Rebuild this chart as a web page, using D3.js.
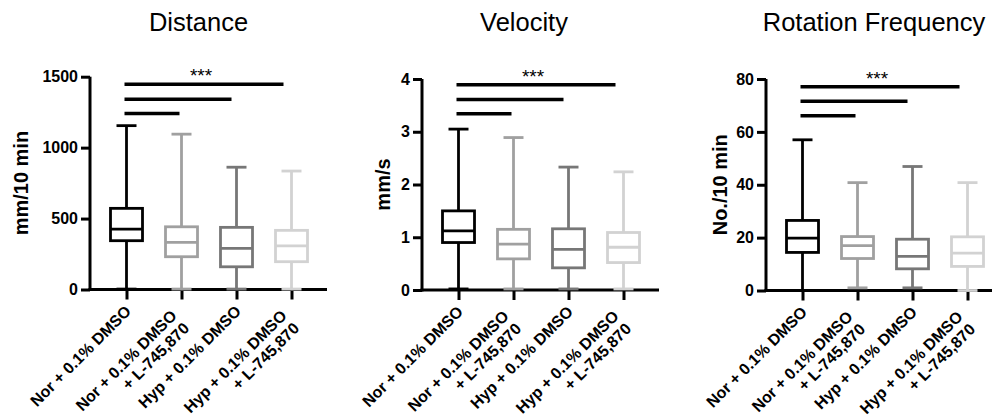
<!DOCTYPE html>
<html>
<head>
<meta charset="utf-8">
<script src="https://cdnjs.cloudflare.com/ajax/libs/d3/7.8.5/d3.min.js"></script>
<style>
  body { margin: 0; background: #fff; }
  #chart { width: 992px; height: 416px; }
  text { font-family: "Liberation Sans", Arial, sans-serif; }
</style>
</head>
<body>
<div id="chart"></div>
<script>
// groups and their (multi-line) tick labels
const groups = ["Nor + 0.1% DMSO", "Nor + 0.1% DMSO + L-745,870", "Hyp + 0.1% DMSO", "Hyp + 0.1% DMSO + L-745,870"];
const groupLabels = [["Nor + 0.1% DMSO"], ["Nor + 0.1% DMSO", "+ L-745,870"], ["Hyp + 0.1% DMSO"], ["Hyp + 0.1% DMSO", "+ L-745,870"]];
const groupColors = ["#000000", "#a0a0a0", "#777777", "#d2d2d2"];

// Distance (mm/10 min)
const distanceMin = [3, 3, 3, 3];
const distanceQ1 = [344, 231, 160, 196];
const distanceMed = [426, 332, 290, 308];
const distanceQ3 = [572, 442, 438, 417];
const distanceMax = [1155, 1095, 862, 835];
const distanceTicks = [0, 500, 1000, 1500];
const distanceSig = [1241, 1341, 1447];

// Velocity (mm/s)
const velocityMin = [0.02, 0.02, 0.02, 0.02];
const velocityQ1 = [0.90, 0.59, 0.42, 0.52];
const velocityMed = [1.12, 0.87, 0.77, 0.81];
const velocityQ3 = [1.50, 1.15, 1.16, 1.09];
const velocityMax = [3.05, 2.89, 2.33, 2.24];
const velocityTicks = [0, 1, 2, 3, 4];
const velocitySig = [3.34, 3.61, 3.89];

// Rotation frequency (No./10 min)
const rotationMin = [0, 1, 1, 0];
const rotationQ1 = [14.4, 12.1, 8.2, 9.1];
const rotationMed = [19.8, 17.0, 12.9, 14.1];
const rotationQ3 = [26.5, 20.4, 19.4, 20.3];
const rotationMax = [57, 40.8, 46.9, 40.8];
const rotationTicks = [0, 20, 40, 60, 80];
const rotationSig = [66.1, 71.6, 77.1];

const panels = [
  {title: "Distance", ylabel: "mm/10 min", min: distanceMin, q1: distanceQ1, med: distanceMed, q3: distanceQ3, max: distanceMax,
   ticks: distanceTicks, sig: distanceSig, axisX: 90, yRange: [289.5, 76.7], titleX: 198.5, labelX: 28},
  {title: "Velocity", ylabel: "mm/s", min: velocityMin, q1: velocityQ1, med: velocityMed, q3: velocityQ3, max: velocityMax,
   ticks: velocityTicks, sig: velocitySig, axisX: 422, yRange: [290, 79], titleX: 524, labelX: 390},
  {title: "Rotation Frequency", ylabel: "No./10 min", min: rotationMin, q1: rotationQ1, med: rotationMed, q3: rotationQ3, max: rotationMax,
   ticks: rotationTicks, sig: rotationSig, axisX: 766, yRange: [290.5, 79], titleX: 874, labelX: 727}
];

const svg = d3.select("#chart").append("svg")
  .attr("width", 992)
  .attr("height", 416);

const boxW = 32, capW = 20;

panels.forEach(p => {
  const g = svg.append("g");
  const tks = p.ticks;
  const y = d3.scaleLinear().domain([0, tks[tks.length - 1]]).range(p.yRange);
  const x = d3.scalePoint().domain(groups).range([p.axisX + 36.5, p.axisX + 36.5 + 165]);
  const y0 = y(0);

  // title
  g.append("text")
    .attr("x", p.titleX).attr("y", 31)
    .attr("text-anchor", "middle")
    .style("font-size", "25.5px")
    .text(p.title);

  // y label
  g.append("text")
    .attr("transform", `translate(${p.labelX},${(p.yRange[0] + p.yRange[1]) / 2}) rotate(-90)`)
    .attr("text-anchor", "middle")
    .style("font-size", "20px").style("font-weight", "bold")
    .text(p.ylabel);

  // y axis
  const yAxis = g.append("g")
    .attr("transform", `translate(${p.axisX},0)`)
    .call(d3.axisLeft(y).tickValues(tks).tickFormat(d => String(d)).tickSize(9).tickSizeOuter(0).tickPadding(3));
  yAxis.select(".domain").attr("stroke-width", 3).attr("d", `M0,${y0 + 1.5}V${y(tks[tks.length - 1])}`);
  yAxis.selectAll(".tick line").attr("stroke-width", 3);
  yAxis.selectAll(".tick text")
    .style("font-size", "16px").style("font-weight", "bold")
    .attr("fill", "#000");

  // x axis
  const xAxis = g.append("g")
    .attr("transform", `translate(0,${y0})`)
    .call(d3.axisBottom(x).tickSize(10).tickSizeOuter(0).tickFormat(""));
  xAxis.select(".domain").attr("stroke-width", 3).attr("d", `M${p.axisX - 1.5},0H${p.axisX + 237}`);
  xAxis.selectAll(".tick line").attr("stroke-width", 3);

  // rotated category labels
  const lab = g.selectAll("g.xlab")
    .data(groups)
    .enter().append("g")
    .attr("class", "xlab")
    .attr("transform", d => `translate(${x(d)},${y0}) rotate(-45)`);
  lab.each(function(d, i){
    const lines = groupLabels[i];
    const el = d3.select(this);
    if(lines.length === 1){
      el.append("text").attr("x", -12).attr("y", 20)
        .attr("text-anchor", "end")
        .style("font-size", "16px").style("font-weight", "bold")
        .text(lines[0]);
    } else {
      lines.forEach((t, k) => {
        el.append("text").attr("x", -22).attr("y", 16.6 + k * 17.7)
          .attr("text-anchor", "end")
          .style("font-size", "16px").style("font-weight", "bold")
          .text(t);
      });
    }
  });

  // boxes
  groups.forEach((gname, i) => {
    const cx = x(gname), col = groupColors[i];
    const bg = g.append("g").attr("stroke", col).attr("stroke-width", 2.8).attr("fill", "none");
    // whiskers
    bg.append("line").attr("x1", cx).attr("x2", cx).attr("y1", y(p.max[i])).attr("y2", y(p.q3[i]));
    bg.append("line").attr("x1", cx).attr("x2", cx).attr("y1", y(p.q1[i])).attr("y2", y(p.min[i]));
    // caps
    bg.append("line").attr("x1", cx - capW / 2).attr("x2", cx + capW / 2).attr("y1", y(p.max[i])).attr("y2", y(p.max[i]));
    bg.append("line").attr("x1", cx - capW / 2).attr("x2", cx + capW / 2).attr("y1", y(p.min[i])).attr("y2", y(p.min[i]));
    // box + median
    bg.append("rect").attr("x", cx - boxW / 2).attr("width", boxW)
      .attr("y", y(p.q3[i])).attr("height", y(p.q1[i]) - y(p.q3[i]))
      .attr("fill", "#fff");
    bg.append("line").attr("x1", cx - boxW / 2).attr("x2", cx + boxW / 2).attr("y1", y(p.med[i])).attr("y2", y(p.med[i]));
  });

  // significance bars: first group vs each other group
  p.sig.forEach((v, k) => {
    const j = k + 1;
    g.append("line")
      .attr("x1", x(groups[0]) - 2).attr("x2", x(groups[j]) - 2 - 3 * k)
      .attr("y1", y(v)).attr("y2", y(v))
      .attr("stroke", "#000").attr("stroke-width", 3.5);
  });
  const topY = y(p.sig[p.sig.length - 1]);
  g.append("text")
    .attr("x", (x(groups[0]) + x(groups[3])) / 2 - 8)
    .attr("y", topY - 2)
    .attr("text-anchor", "middle")
    .style("font-size", "19px")
    .text("***");
});
</script>
</body>
</html>
